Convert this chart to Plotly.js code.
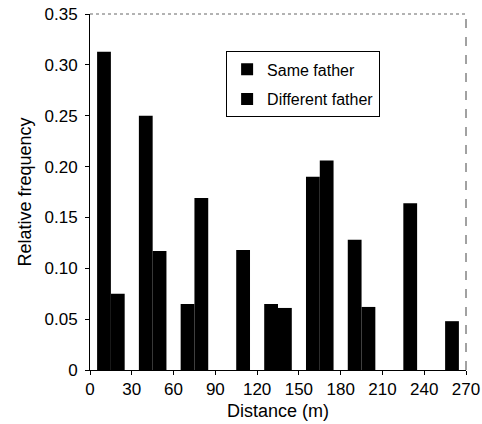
<!DOCTYPE html>
<html>
<head>
<meta charset="utf-8">
<script src="https://cdn.plot.ly/plotly-3.0.1.min.js"></script>
<style>html,body{margin:0;padding:0;background:#fff;}#chart{width:482px;height:424px;}</style>
</head>
<body>
<div id="chart"></div>
<script>
const binCenters = [15, 45, 75, 105, 135, 165, 195, 225, 255];
const sameFather = [0.313, 0.250, 0.065, 0, 0.065, 0.190, 0.128, 0, 0];
const differentFather = [0.075, 0.117, 0.169, 0.118, 0.061, 0.206, 0.062, 0.164, 0.048];
const seriesNames = ['Same father', 'Different father'];
const xTicks = [0, 30, 60, 90, 120, 150, 180, 210, 240, 270];
const yTicks = [0, 0.05, 0.10, 0.15, 0.20, 0.25, 0.30, 0.35];
const yTickText = ['0', '0.05', '0.10', '0.15', '0.20', '0.25', '0.30', '0.35'];

const font = {family: 'Liberation Sans, Arial, sans-serif', color: '#000'};

const traces = [
  {type: 'bar', x: binCenters, y: sameFather, name: seriesNames[0], legendgroup: 'a',
   marker: {color: '#000', line: {width: 0}}},
  {type: 'bar', x: binCenters, y: differentFather, name: seriesNames[1], legendgroup: 'b',
   marker: {color: '#000', line: {width: 0}}}
];

const layout = {
  width: 482, height: 424,
  margin: {l: 90, r: 16, t: 14, b: 54},
  paper_bgcolor: '#fff', plot_bgcolor: '#fff',
  barmode: 'group', bargap: 0.34, bargroupgap: 0,
  showlegend: true,
  legend: {
    x: 0.362, y: 0.895, xanchor: 'left', yanchor: 'top',
    bordercolor: '#000', borderwidth: 1, bgcolor: '#fff',
    font: Object.assign({size: 16}, font),
    traceorder: 'grouped', tracegroupgap: 6, itemwidth: 30
  },
  xaxis: {
    range: [0, 270], tickvals: xTicks, ticktext: xTicks.map(String),
    showgrid: false, zeroline: false, showline: true, linecolor: '#000', linewidth: 1,
    ticks: 'outside', ticklen: 4, tickcolor: '#000',
    tickfont: Object.assign({size: 17}, font),
    title: {text: 'Distance (m)', font: Object.assign({size: 18}, font), standoff: 5}
  },
  yaxis: {
    range: [0, 0.35], tickvals: yTicks, ticktext: yTickText,
    showgrid: false, zeroline: false, showline: true, linecolor: '#000', linewidth: 1,
    ticks: 'outside', ticklen: 4, tickcolor: '#000', ticklabelstandoff: 4,
    tickfont: Object.assign({size: 17}, font),
    title: {text: 'Relative frequency', font: Object.assign({size: 18}, font), standoff: 8}
  },
  shapes: [
    {type: 'line', xref: 'paper', yref: 'paper', x0: 0, x1: 1, y0: 1, y1: 1,
     line: {color: '#666', width: 1, dash: 'dot'}},
    {type: 'line', xref: 'paper', yref: 'paper', x0: 1, x1: 1, y0: 0, y1: 1,
     line: {color: '#444', width: 1, dash: 'dash'}}
  ]
};

Plotly.newPlot('chart', traces, layout, {displayModeBar: false, staticPlot: true});
</script>
</body>
</html>
